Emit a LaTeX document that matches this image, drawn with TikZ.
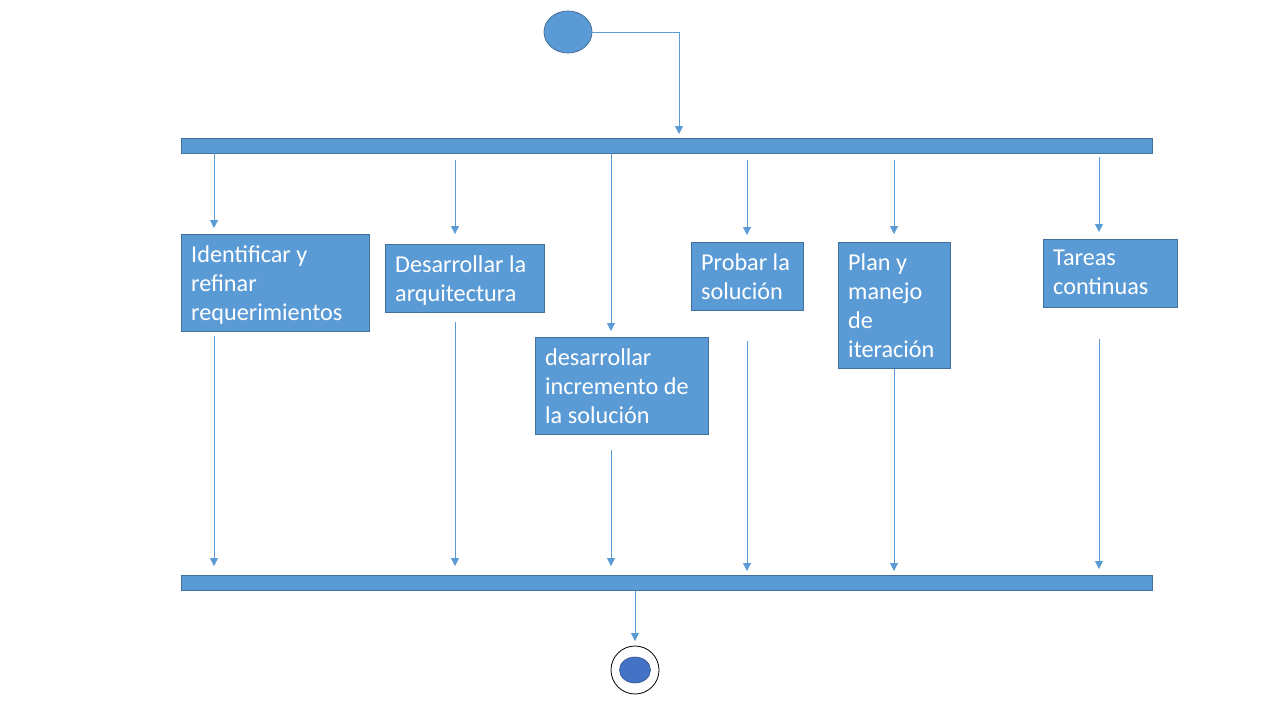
\documentclass[tikz,border=0pt]{standalone}
\usepackage{fontspec}
\setmainfont{Carlito}
\usetikzlibrary{arrows.meta,shapes.geometric}
\definecolor{bfill}{HTML}{5B9BD5}
\definecolor{bdraw}{HTML}{41719C}
\definecolor{endfill}{HTML}{4472C4}
\definecolor{enddraw}{HTML}{2F528F}
\begin{document}
\begin{tikzpicture}[x=1pt,y=-1pt,
  box/.style={draw=bdraw,fill=bfill,line width=0.8pt,anchor=north west,inner sep=0pt},
  txt/.style={anchor=north west,inner sep=0pt,text=white,align=left,font=\fontsize{24.2}{29}\selectfont},
  conn/.style={draw=bfill,line width=0.8pt,-{Triangle[length=8pt,width=8pt]}},
  bar/.style={draw=bdraw,fill=bfill,line width=0.8pt,anchor=north west,inner sep=0pt,minimum width=971pt,minimum height=15pt}]
\useasboundingbox[fill=white] (0,0) rectangle (1280,720);
% start
\node[ellipse,draw=bdraw,fill=bfill,line width=0.8pt,minimum width=48pt,minimum height=42pt,inner sep=0pt] (start) at (568,32) {};
\node[bar] (top) at (181,138) {};
\node[bar] (bot) at (181,575) {};
\coordinate (c0) at (679,134);
\draw[conn] (start.east) -| (c0);
% boxes
\node[box,minimum width=188pt,minimum height=97pt] (b1) at (181,234) {};
\node[box,minimum width=159pt,minimum height=68pt] (b2) at (385,244) {};
\node[box,minimum width=173pt,minimum height=97pt] (b3) at (535,337) {};
\node[box,minimum width=112pt,minimum height=68pt] (b4) at (691,242) {};
\node[box,minimum width=112pt,minimum height=126pt] (b5) at (838,242) {};
\node[box,minimum width=134pt,minimum height=68pt] (b6) at (1043,239) {};
\node[txt] (t1) at ([shift={(10,11)}]b1.north west) {Identificar y\\refinar\\requerimientos};
\node[txt] (t2) at ([shift={(10,11)}]b2.north west) {Desarrollar la\\arquitectura};
\node[txt] (t3) at ([shift={(10,11)}]b3.north west) {desarrollar\\incremento de\\la solución};
\node[txt] (t4) at ([shift={(10,11)}]b4.north west) {Probar la\\solución};
\node[txt] (t5) at ([shift={(10,11)}]b5.north west) {Plan y\\manejo\\de\\iteración};
\node[txt] (t6) at ([shift={(10,11)}]b6.north west) {Tareas\\continuas};
% in-arrows
\coordinate (i1s) at (214,153); \coordinate (i1e) at (214,228);
\coordinate (i2s) at (455,160); \coordinate (i2e) at (455,234);
\coordinate (i3s) at (611,153); \coordinate (i3e) at (611,331);
\coordinate (i4s) at (747,160); \coordinate (i4e) at (747,235);
\coordinate (i5s) at (894,160); \coordinate (i5e) at (894,234);
\coordinate (i6s) at (1099,157); \coordinate (i6e) at (1099,232);
\foreach \k in {1,...,6} {\draw[conn] (i\k s) -- (i\k e);}
% out-arrows
\coordinate (o1s) at (214,336); \coordinate (o1e) at (214,566);
\coordinate (o2s) at (455,322); \coordinate (o2e) at (455,566);
\coordinate (o3s) at (611,450); \coordinate (o3e) at (611,566);
\coordinate (o4s) at (747,341); \coordinate (o4e) at (747,571);
\coordinate (o5s) at (894,369); \coordinate (o5e) at (894,571);
\coordinate (o6s) at (1099,339); \coordinate (o6e) at (1099,569);
\foreach \k in {1,...,6} {\draw[conn] (o\k s) -- (o\k e);}
% end
\node[circle,draw=black,fill=white,line width=0.8pt,minimum size=48pt,inner sep=0pt] (endo) at (635,670) {};
\node[ellipse,draw=enddraw,fill=endfill,line width=0.6pt,minimum width=31pt,minimum height=26pt,inner sep=0pt] (endi) at (635,670) {};
\coordinate (ce) at (635,641);
\draw[conn] (bot.south -| ce) -- (ce);
\end{tikzpicture}
\end{document}
